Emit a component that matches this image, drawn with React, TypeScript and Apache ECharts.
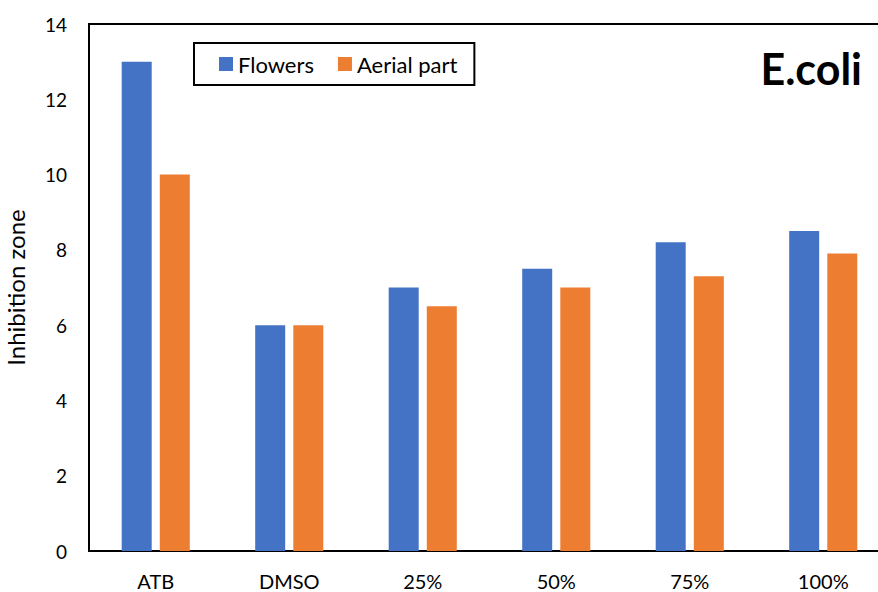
import React, { useEffect, useRef } from "react";
import * as echarts from "echarts";

const categories = ["ATB", "DMSO", "25%", "50%", "75%", "100%"];
const flowers = [13, 6, 7, 7.5, 8.2, 8.5];
const aerialPart = [10, 6, 6.5, 7, 7.3, 7.9];
const seriesNames = ["Flowers", "Aerial part"];
const titleText = "E.coli";
const yAxisTitle = "Inhibition zone";

const FONT = "Lato, 'Open Sans', sans-serif";

export default function App() {
  const ref = useRef<HTMLDivElement>(null);
  useEffect(() => {
    if (!ref.current) return;
    const chart = echarts.init(ref.current, null, { renderer: "svg" });
    chart.setOption({
      animation: false,
      backgroundColor: "#ffffff",
      textStyle: { fontFamily: FONT },
      title: {
        text: titleText,
        right: 11,
        top: 42,
        textStyle: { fontSize: 43, fontWeight: "bold", color: "#000", fontFamily: FONT },
      },
      legend: {
        data: seriesNames,
        left: 194,
        top: 43,
        orient: "horizontal",
        itemWidth: 14,
        itemHeight: 14,
        itemGap: 24,
        padding: [10, 17, 10, 25],
        borderColor: "#000",
        borderWidth: 2,
        icon: "rect",
        textStyle: { fontSize: 22, color: "#000", fontFamily: FONT },
      },
      grid: {
        left: 89,
        top: 24,
        width: 801,
        bottom: 41,
        show: true,
        borderColor: "#000",
        borderWidth: 2,
        containLabel: false,
        outerBoundsMode: "none",
      },
      xAxis: {
        type: "category",
        data: categories,
        axisLine: { show: true, lineStyle: { color: "#000", width: 2 } },
        axisTick: { show: false },
        axisLabel: { fontSize: 20, lineHeight: 16, color: "#000", margin: 22, fontFamily: FONT },
      },
      yAxis: {
        type: "value",
        min: 0,
        max: 14,
        interval: 2,
        name: yAxisTitle,
        nameLocation: "middle",
        nameGap: 62,
        nameTextStyle: { fontSize: 24, color: "#000", fontFamily: FONT },
        axisLine: { show: true, lineStyle: { color: "#000", width: 2 } },
        axisTick: { show: false },
        splitLine: { show: false },
        axisLabel: { fontSize: 19, color: "#000", margin: 22, fontFamily: FONT },
      },
      series: [
        {
          name: seriesNames[0],
          type: "bar",
          data: flowers,
          barWidth: 30,
          barGap: "27%",
          itemStyle: { color: "#4472C4" },
        },
        {
          name: seriesNames[1],
          type: "bar",
          data: aerialPart,
          barWidth: 30,
          barGap: "27%",
          itemStyle: { color: "#ED7D31" },
        },
      ],
    });
    return () => chart.dispose();
  }, []);
  return (
    <div
      ref={ref}
      style={{ position: "fixed", left: 0, top: 0, width: 878, height: 592, background: "#fff" }}
    />
  );
}
